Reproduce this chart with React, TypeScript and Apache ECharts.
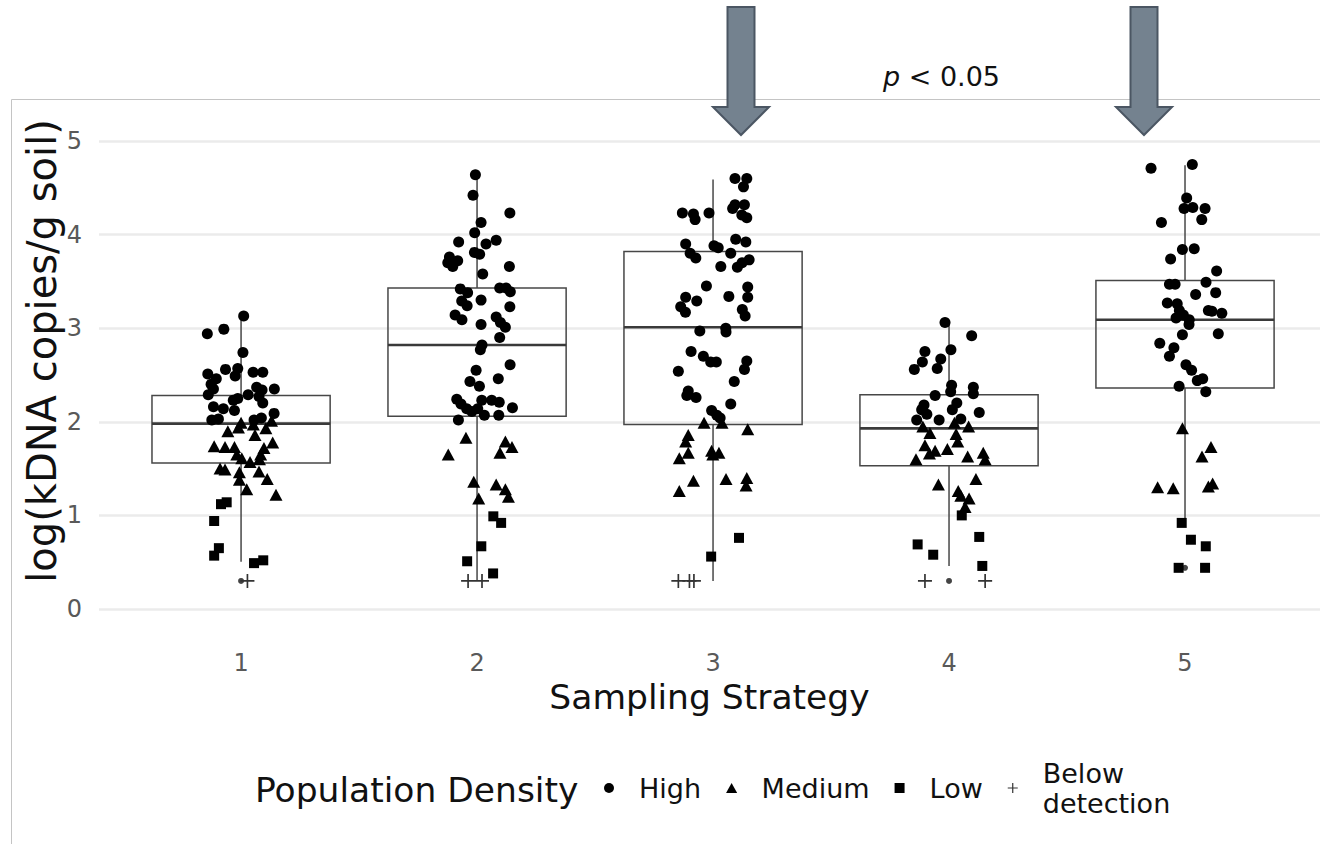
import { useEffect, useRef } from 'react';
import * as echarts from 'echarts';

const FONT = '"DejaVu Sans", Verdana, sans-serif';

// Sampling strategies (x categories)
const categories = ['1', '2', '3', '4', '5'];
const yTicks = [0, 1, 2, 3, 4, 5];

// Box-plot statistics per strategy (log kDNA copies / g soil)
const boxLow = [0.505, 0.3, 0.3, 0.46, 0.92];
const boxQ1 = [1.56, 2.06, 1.97, 1.53, 2.36];
const boxMedian = [1.98, 2.82, 3.01, 1.93, 3.09];
const boxQ3 = [2.28, 3.43, 3.82, 2.29, 3.51];
const boxHigh = [3.13, 4.64, 4.59, 3.06, 4.74];
const outlierPts: [number, number][] = [[1, 0.3], [4, 0.3], [5, 0.44]];

// Jittered observations: [strategy + jitter, value]
const highPts: [number, number][] = [
  [1.011, 3.13], [0.857, 2.94], [0.927, 2.99], [1.008, 2.74], [0.859, 2.51], [0.934, 2.56], [0.986, 2.57], [0.975, 2.49],
  [0.895, 2.46], [1.051, 2.53], [1.092, 2.53], [0.873, 2.4], [0.883, 2.35], [0.861, 2.29], [1.066, 2.37], [1.089, 2.34],
  [1.141, 2.35], [1.03, 2.29], [0.986, 2.25], [0.967, 2.23], [1.076, 2.27], [1.092, 2.2], [0.883, 2.16], [0.925, 2.14],
  [0.972, 2.12], [1.14, 2.09], [0.876, 2.02], [0.904, 2.03], [1.055, 2.02], [1.086, 2.04],
  [1.993, 4.64], [1.983, 4.42], [2.139, 4.23], [2.017, 4.13], [1.99, 4.02], [1.922, 3.92], [2.038, 3.9], [2.081, 3.94],
  [1.989, 3.81], [2.011, 3.79], [1.883, 3.76], [1.876, 3.7], [1.897, 3.66], [1.918, 3.72], [2.137, 3.66], [2.024, 3.58],
  [1.929, 3.42], [1.96, 3.38], [2.096, 3.43], [2.123, 3.43], [2.141, 3.39], [1.935, 3.29], [1.958, 3.24], [2.017, 3.3],
  [2.139, 3.23], [1.907, 3.14], [1.936, 3.09], [2.017, 3.04], [2.081, 3.12], [2.099, 3.06], [2.12, 3.01], [2.096, 2.9],
  [2.021, 2.82], [2.014, 2.77], [2.14, 2.61], [1.996, 2.55], [1.97, 2.43], [2.09, 2.46], [2.01, 2.38], [1.914, 2.24],
  [1.932, 2.19], [1.956, 2.14], [1.978, 2.11], [2.003, 2.14], [2.02, 2.23], [2.062, 2.23], [2.094, 2.21], [2.15, 2.15],
  [2.031, 2.07], [2.092, 2.07], [1.921, 2.02],
  [3.093, 4.6], [3.143, 4.6], [3.129, 4.51], [3.093, 4.32], [3.133, 4.32], [3.083, 4.28], [3.122, 4.21], [3.143, 4.18],
  [2.87, 4.23], [2.917, 4.22], [2.924, 4.16], [2.983, 4.23], [3.096, 3.95], [3.139, 3.92], [2.884, 3.9], [3.004, 3.88],
  [3.022, 3.86], [2.903, 3.8], [2.927, 3.75], [3.075, 3.8], [3.033, 3.66], [3.103, 3.65], [3.123, 3.7], [3.153, 3.73],
  [2.972, 3.45], [3.147, 3.44], [3.067, 3.34], [3.147, 3.33], [2.884, 3.33], [2.931, 3.29], [2.863, 3.23], [2.883, 3.17],
  [3.124, 3.2], [3.136, 3.13], [2.944, 2.97], [3.054, 3.0], [3.055, 2.96], [2.907, 2.75], [2.959, 2.7], [2.99, 2.64],
  [3.014, 2.64], [3.143, 2.65], [3.133, 2.56], [2.853, 2.54], [3.09, 2.43], [2.895, 2.33], [2.889, 2.28], [2.928, 2.26],
  [3.075, 2.19], [2.994, 2.12], [3.016, 2.07], [3.03, 2.04],
  [3.983, 3.06], [4.096, 2.92], [4.008, 2.77], [3.898, 2.75], [3.887, 2.64], [3.965, 2.67], [3.95, 2.57], [3.853, 2.56],
  [4.011, 2.39], [4.103, 2.37], [4.007, 2.32], [4.103, 2.3], [3.941, 2.28], [3.894, 2.18], [4.033, 2.2], [3.884, 2.13],
  [3.906, 2.08], [4.014, 2.13], [4.128, 2.1], [3.863, 2.02], [3.958, 2.02], [4.05, 2.03],
  [5.031, 4.75], [4.856, 4.71], [5.007, 4.39], [4.996, 4.28], [5.033, 4.29], [5.085, 4.28], [5.071, 4.16], [4.9, 4.13],
  [4.989, 3.84], [5.039, 3.85], [4.939, 3.74], [5.134, 3.61], [4.934, 3.47], [4.958, 3.47], [5.089, 3.49], [5.13, 3.38],
  [5.045, 3.36], [4.925, 3.27], [4.967, 3.26], [4.976, 3.19], [5.099, 3.19], [5.114, 3.18], [5.156, 3.16], [4.962, 3.11],
  [4.993, 3.14], [5.018, 3.09], [5.017, 3.04], [5.141, 2.94], [4.989, 2.93], [4.893, 2.84], [4.953, 2.79], [4.934, 2.7],
  [5.004, 2.61], [5.028, 2.55], [5.052, 2.44], [5.075, 2.46], [4.975, 2.38], [5.088, 2.32],
];

const mediumPts: [number, number][] = [
  [1.0, 1.99], [0.944, 1.9], [0.989, 1.94], [1.052, 1.97], [1.105, 1.93], [1.129, 2.01], [1.059, 1.86], [0.886, 1.74],
  [0.932, 1.73], [0.972, 1.73], [1.134, 1.78], [1.097, 1.72], [0.982, 1.65], [1.003, 1.61], [1.038, 1.57], [1.078, 1.6],
  [1.083, 1.65], [0.911, 1.5], [0.932, 1.49], [0.993, 1.46], [1.076, 1.47], [0.993, 1.38], [1.111, 1.39], [1.024, 1.28],
  [1.148, 1.22],
  [1.953, 1.83], [1.878, 1.65], [2.12, 1.79], [2.148, 1.73], [2.097, 1.67], [1.986, 1.36], [2.081, 1.33], [2.12, 1.28],
  [2.133, 1.2], [2.007, 1.18],
  [2.962, 1.99], [3.038, 1.99], [3.147, 1.92], [2.895, 1.86], [2.884, 1.79], [2.895, 1.67], [2.857, 1.61], [2.994, 1.69],
  [3.025, 1.67], [2.999, 1.65], [2.917, 1.37], [2.857, 1.26], [3.055, 1.39], [3.143, 1.4], [3.14, 1.32],
  [3.889, 1.95], [3.919, 1.88], [4.023, 1.99], [4.083, 1.95], [4.03, 1.87], [4.037, 1.79], [3.898, 1.75], [3.941, 1.69],
  [3.993, 1.71], [3.917, 1.66], [3.86, 1.6], [4.079, 1.63], [4.145, 1.67], [4.153, 1.6], [3.955, 1.33], [4.114, 1.39],
  [4.039, 1.26], [4.05, 1.21], [4.085, 1.18], [4.068, 1.09],
  [4.989, 1.93], [5.11, 1.73], [5.072, 1.63], [4.884, 1.3], [4.95, 1.29], [5.099, 1.31], [5.117, 1.34],
];

const lowPts: [number, number][] = [
  [0.915, 1.12], [0.939, 1.14], [0.886, 0.94], [0.906, 0.65], [0.886, 0.57], [1.055, 0.49], [1.094, 0.52],
  [2.069, 0.99], [2.102, 0.92], [2.018, 0.67], [1.958, 0.51], [2.068, 0.38],
  [3.11, 0.76], [2.992, 0.56],
  [4.054, 1.0], [4.128, 0.77], [3.867, 0.69], [3.933, 0.58], [4.141, 0.46],
  [4.986, 0.92], [5.025, 0.74], [5.088, 0.67], [4.973, 0.44], [5.085, 0.44],
];

const belowPts: [number, number][] = [
  [1.027, 0.3],
  [1.962, 0.3], [2.021, 0.3],
  [2.853, 0.3], [2.9, 0.3], [2.919, 0.3],
  [3.898, 0.3], [4.153, 0.3],
];

const seriesNames = ['High', 'Medium', 'Low', 'Below\ndetection'];

const PLUS = 'path://M4.4,0H5.6V4.4H10V5.6H5.6V10H4.4V5.6H0V4.4H4.4Z';
const CIRCLE_ICON = 'path://M0,5A5,5,0,1,1,10,5A5,5,0,1,1,0,5Z';
const TRI_ICON = 'path://M5,0L10,9L0,9Z';
const SQ_ICON = 'path://M0,0H10V10H0Z';

const BOX_WIDTH = 0.755;
const BOX_STROKE = '#474747';

export default function App() {
  const ref = useRef<HTMLDivElement>(null);

  useEffect(() => {
    if (!ref.current) return;
    const chart = echarts.init(ref.current, null, { renderer: 'svg' });

    const boxData = categories.map((_, i) => [i + 1, boxLow[i], boxQ1[i], boxMedian[i], boxQ3[i], boxHigh[i]]);

    const arrow = (cx: number) => ({
      type: 'polygon',
      z: 100,
      shape: {
        points: [
          [cx - 13.5, 7], [cx + 13.5, 7], [cx + 13.5, 107], [cx + 28, 107],
          [cx, 135], [cx - 28, 107], [cx - 13.5, 107],
        ],
      },
      style: { fill: '#74828f', stroke: '#4b5663', lineWidth: 2 },
    });

    const option: any = {
      animation: false,
      backgroundColor: '#ffffff',
      grid: { left: 99, top: 141, right: 0, height: 468 },
      xAxis: {
        type: 'value',
        min: 0.398,
        max: 5.572,
        axisLine: { show: false },
        axisTick: { show: false },
        splitLine: { show: false },
        axisLabel: {
          customValues: [1, 2, 3, 4, 5],
          formatter: (v: number) => categories[Math.round(v) - 1] ?? '',
          fontSize: 24,
          color: '#595959',
          fontFamily: FONT,
          margin: 42,
        },
        name: 'Sampling Strategy',
        nameLocation: 'middle',
        nameGap: 62,
        nameTextStyle: { fontSize: 34.5, color: '#111', fontFamily: FONT },
      },
      yAxis: {
        type: 'value',
        min: yTicks[0],
        max: yTicks[yTicks.length - 1],
        interval: 1,
        axisLine: { show: false },
        axisTick: { show: false },
        splitLine: { lineStyle: { color: '#ebebeb', width: 2.5 } },
        axisLabel: { fontSize: 24, color: '#595959', fontFamily: FONT, margin: 17 },
      },
      legend: {
        data: [
          { name: seriesNames[0], icon: CIRCLE_ICON },
          { name: seriesNames[1], icon: TRI_ICON },
          { name: seriesNames[2], icon: SQ_ICON },
          { name: seriesNames[3], icon: PLUS },
        ],
        left: 599,
        top: 753,
        orient: 'horizontal',
        itemWidth: 50,
        itemHeight: 10,
        itemGap: 25,
        selectedMode: false,
        textStyle: { fontSize: 27, color: '#111', fontFamily: FONT, lineHeight: 30 },
      },
      graphic: [
        {
          type: 'rect',
          z: 0,
          silent: true,
          shape: { x: 11.5, y: 99.5, width: 1330, height: 760 },
          style: { fill: 'rgba(0,0,0,0)', stroke: '#c4c4c4', lineWidth: 1 },
        },
        arrow(741),
        arrow(1144),
        {
          type: 'text',
          z: 100,
          x: 42,
          y: 351,
          rotation: Math.PI / 2,
          style: {
            text: 'log(kDNA copies/g soil)',
            fontSize: 40,
            fontFamily: FONT,
            fill: '#111',
            align: 'center',
            verticalAlign: 'middle',
          },
        },
        {
          type: 'text',
          z: 100,
          x: 883,
          y: 76,
          style: {
            text: '{i|p} < 0.05',
            fontSize: 27,
            fontFamily: FONT,
            fill: '#111',
            verticalAlign: 'middle',
            rich: { i: { fontStyle: 'italic', fontSize: 27, fontFamily: FONT, fill: '#111' } },
          },
        },
        {
          type: 'text',
          z: 100,
          x: 255,
          y: 790,
          style: {
            text: 'Population Density',
            fontSize: 34.5,
            fontFamily: FONT,
            fill: '#111',
            verticalAlign: 'middle',
          },
        },
      ],
      series: [
        {
          type: 'custom',
          name: 'box',
          z: 2,
          silent: true,
          data: boxData,
          encode: { x: 0, y: [1, 2, 3, 4, 5] },
          renderItem: (_params: any, api: any) => {
            const x = api.value(0);
            const lo = api.coord([x, api.value(1)]);
            const q1 = api.coord([x, api.value(2)]);
            const med = api.coord([x, api.value(3)]);
            const q3 = api.coord([x, api.value(4)]);
            const hi = api.coord([x, api.value(5)]);
            const half = api.size([BOX_WIDTH, 0])[0] / 2;
            return {
              type: 'group',
              children: [
                { type: 'line', shape: { x1: lo[0], y1: lo[1], x2: q1[0], y2: q1[1] }, style: { stroke: BOX_STROKE, lineWidth: 1.5 } },
                { type: 'line', shape: { x1: q3[0], y1: q3[1], x2: hi[0], y2: hi[1] }, style: { stroke: BOX_STROKE, lineWidth: 1.5 } },
                {
                  type: 'rect',
                  shape: { x: q3[0] - half, y: q3[1], width: half * 2, height: q1[1] - q3[1] },
                  style: { fill: 'rgba(0,0,0,0)', stroke: BOX_STROKE, lineWidth: 1.5 },
                },
                { type: 'line', shape: { x1: med[0] - half, y1: med[1], x2: med[0] + half, y2: med[1] }, style: { stroke: '#3a3a3a', lineWidth: 2.6 } },
              ],
            };
          },
        },
        {
          type: 'scatter',
          name: 'outliers',
          z: 3,
          data: outlierPts,
          symbol: 'circle',
          symbolSize: 6,
          itemStyle: { color: '#444', opacity: 1 },
        },
        {
          type: 'scatter', name: seriesNames[0], z: 4, data: highPts, symbol: 'circle', symbolSize: 11,
          itemStyle: { color: '#000', opacity: 1 },
        },
        {
          type: 'scatter', name: seriesNames[1], z: 4, data: mediumPts, symbol: 'triangle', symbolSize: [13, 12],
          itemStyle: { color: '#000', opacity: 1 },
        },
        {
          type: 'scatter', name: seriesNames[2], z: 4, data: lowPts, symbol: 'rect', symbolSize: 10,
          itemStyle: { color: '#000', opacity: 1 },
        },
        {
          type: 'scatter', name: seriesNames[3], z: 4, data: belowPts, symbol: PLUS, symbolSize: 14,
          itemStyle: { color: '#333', opacity: 1 },
        },
      ],
    };

    chart.setOption(option);
    return () => chart.dispose();
  }, []);

  return (
    <div
      ref={ref}
      style={{ position: 'absolute', left: 0, top: 0, width: 1320, height: 844, background: '#fff' }}
    />
  );
}
